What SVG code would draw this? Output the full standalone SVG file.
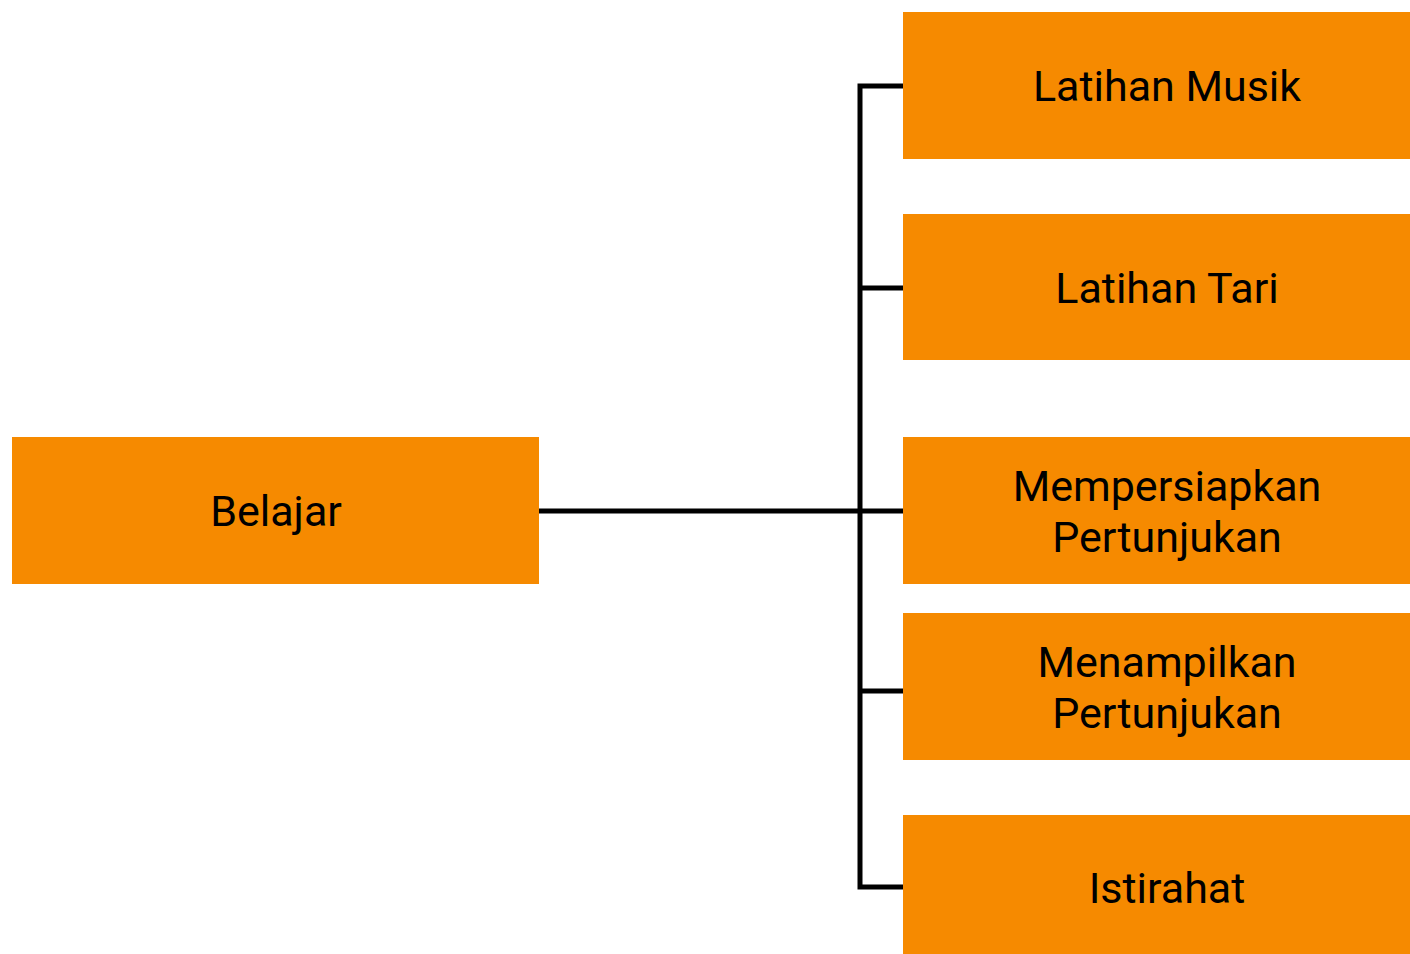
<svg xmlns="http://www.w3.org/2000/svg" width="1410" height="954" viewBox="0 0 1410 954">
  <style>
    .box { fill: #F68A00; }
    .lbl { font-family: Roboto, "Liberation Sans", sans-serif; font-size: 43px; fill: #000; text-anchor: middle; }
    .wire { fill: none; stroke: #000; stroke-width: 5; }
  </style>
  <rect width="1410" height="954" fill="#fff"/>
  <g id="connectors">
    <path class="wire" d="M539 511 H904"/>
    <path class="wire" d="M904 86 H860 V887 H904"/>
    <path class="wire" d="M860 288 H904"/>
    <path class="wire" d="M860 691 H904"/>
  </g>
  <g id="belajar">
    <rect class="box" x="12" y="437" width="527" height="147"/>
    <text class="lbl" x="276" y="526">Belajar</text>
  </g>
  <g id="latihan-musik">
    <rect class="box" x="903" y="12" width="527" height="147"/>
    <text class="lbl" x="1167" y="101">Latihan Musik</text>
  </g>
  <g id="latihan-tari">
    <rect class="box" x="903" y="214" width="527" height="146"/>
    <text class="lbl" x="1167" y="303">Latihan Tari</text>
  </g>
  <g id="mempersiapkan">
    <rect class="box" x="903" y="437" width="527" height="147"/>
    <text class="lbl" x="1167" y="501">Mempersiapkan</text>
    <text class="lbl" x="1167" y="552">Pertunjukan</text>
  </g>
  <g id="menampilkan">
    <rect class="box" x="903" y="613" width="527" height="147"/>
    <text class="lbl" x="1167" y="677">Menampilkan</text>
    <text class="lbl" x="1167" y="728">Pertunjukan</text>
  </g>
  <g id="istirahat">
    <rect class="box" x="903" y="815" width="527" height="147"/>
    <text class="lbl" x="1167" y="903">Istirahat</text>
  </g>
</svg>
